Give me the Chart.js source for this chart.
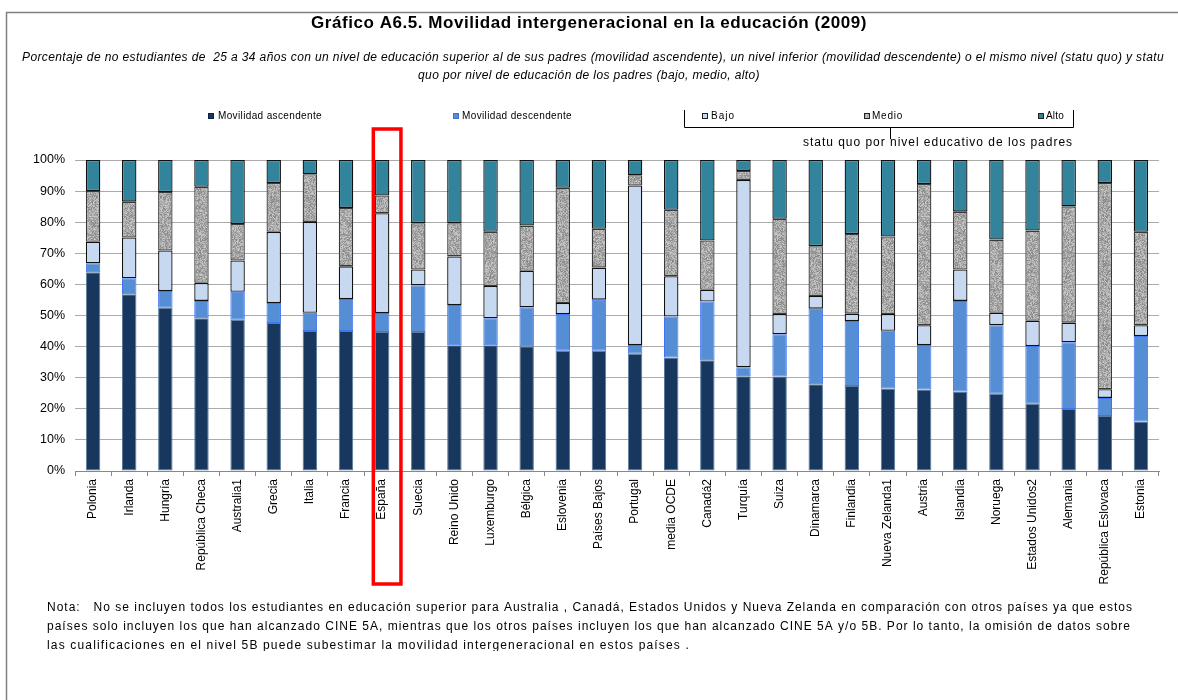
<!DOCTYPE html>
<html>
<head>
<meta charset="utf-8">
<title>Movilidad intergeneracional en la educación (2009)</title>
<script src="https://cdn.jsdelivr.net/npm/chart.js@4"></script>
<style>
  html, body { margin: 0; padding: 0; background: #fff; }
  canvas { display: block; }
</style>
</head>
<body>
<canvas id="chart" width="1178" height="700"></canvas>
<script>
/* ---------------- data ---------------- */
var countries = ["Polonia", "Irlanda", "Hungría", "República Checa", "Australia1", "Grecia", "Italia", "Francia",
    "España", "Suecia", "Reino Unido", "Luxemburgo", "Bélgica", "Eslovenia", "Países Bajos", "Portugal",
    "media OCDE", "Canadá2", "Turquía", "Suiza", "Dinamarca", "Finlandia", "Nueva Zelanda1", "Austria",
    "Islandia", "Noruega", "Estados Unidos2", "Alemania", "República Eslovaca", "Estonia"];

var ascendente = [63.9, 56.8, 52.5, 49.1, 48.6, 47.6, 45.0, 45.0, 44.7, 44.7, 40.4, 40.4, 40.1, 38.7, 38.7, 37.7,
    36.5, 35.6, 30.5, 30.4, 27.9, 27.3, 26.5, 26.2, 25.6, 24.8, 21.6, 19.9, 17.7, 15.9];
var descendente = [2.9, 5.2, 5.4, 5.6, 9.0, 6.4, 5.9, 10.3, 6.1, 15.0, 13.0, 8.7, 12.5, 11.8, 16.4, 2.8,
    13.2, 18.9, 2.9, 13.6, 24.3, 20.9, 18.6, 14.3, 29.1, 22.1, 18.6, 21.5, 5.8, 27.5];
var bajo = [6.9, 13.1, 13.0, 5.8, 10.1, 22.9, 29.2, 10.5, 32.1, 5.1, 15.6, 10.4, 11.8, 3.5, 10.3, 51.3,
    12.9, 3.8, 60.2, 6.5, 4.1, 2.4, 5.4, 6.4, 10.1, 4.0, 8.1, 6.3, 2.8, 3.5];
var medio = [16.3, 11.5, 18.8, 30.9, 11.7, 15.7, 15.3, 18.8, 5.7, 14.9, 10.7, 17.4, 14.5, 37.1, 12.5, 3.3,
    21.4, 15.8, 2.9, 30.6, 16.0, 25.6, 24.9, 45.4, 18.6, 23.5, 29.0, 37.4, 66.3, 30.0];
var alto = [10.0, 13.4, 10.3, 8.6, 20.6, 7.4, 4.6, 15.4, 11.4, 20.3, 20.3, 23.1, 21.1, 8.9, 22.1, 4.9,
    16.0, 25.9, 3.5, 18.9, 27.7, 23.8, 24.6, 7.7, 16.6, 25.6, 22.7, 14.9, 7.4, 23.1];

var yTicks = [0, 10, 20, 30, 40, 50, 60, 70, 80, 90, 100];
var highlighted = "España";

/* ---------------- texts ---------------- */
var titleText = "Gráfico A6.5. Movilidad intergeneracional en la educación (2009)";
var subtitleLines = [
    "Porcentaje de no estudiantes de  25 a 34 años con un nivel de educación superior al de sus padres (movilidad ascendente), un nivel inferior (movilidad descendente) o el mismo nivel (statu quo) y statu",
    "quo por nivel de educación de los padres (bajo, medio, alto)"
];
var noteLines = [
    "Nota:   No se incluyen todos los estudiantes en educación superior para Australia , Canadá, Estados Unidos y Nueva Zelanda en comparación con otros países ya que estos",
    "países solo incluyen los que han alcanzado CINE 5A, mientras que los otros países incluyen los que han alcanzado CINE 5A y/o 5B. Por lo tanto, la omisión de datos sobre",
    "las cualificaciones en el nivel 5B puede subestimar la movilidad intergeneracional en estos países ."
];

var FONT = "'Liberation Sans', Arial, sans-serif";

/* speckled grey fill for the "Medio" series */
function makeSpeckle() {
    var n = 64;
    var c = document.createElement("canvas");
    c.width = n; c.height = n;
    var g = c.getContext("2d");
    var img = g.createImageData(n, n);
    for (var y = 0; y < n; y++) {
        for (var x = 0; x < n; x++) {
            var h = (x * 73856093) ^ (y * 19349663);
            h = Math.imul(h ^ (h >>> 16), 0x45d9f3b);
            h = Math.imul(h ^ (h >>> 16), 0x45d9f3b);
            h = (h ^ (h >>> 16)) >>> 0;
            var v = 168 + ((h % 72) - 36);
            var i = (y * n + x) * 4;
            img.data[i] = v; img.data[i + 1] = v; img.data[i + 2] = v; img.data[i + 3] = 255;
        }
    }
    g.putImageData(img, 0, 0);
    return g.createPattern(c, "repeat");
}

var ctx0 = document.getElementById("chart").getContext("2d");
var speckle = makeSpeckle();

var colAsc = "#17375E", colDesc = "#558ED5", colBajo = "#C6D9F1", colAlto = "#31849B";

// draws text so that it spans `width` px (letter spacing or squeeze)
function spanText(ctx, text, x, y, width, font, align) {
    ctx.save();
    ctx.font = font;
    ctx.textBaseline = "middle";
    ctx.textAlign = "left";
    var w = ctx.measureText(text).width;
    var left = align === "center" ? x - width / 2 : x;
    if (width >= w) {
        ctx.letterSpacing = ((width - w) / text.length) + "px";
        ctx.fillText(text, left, y);
    } else {
        ctx.translate(left, y);
        ctx.scale(width / w, 1);
        ctx.fillText(text, 0, 0);
    }
    ctx.restore();
}

function legendBox(ctx, x, y, fill, stroke) {
    ctx.fillStyle = fill;
    ctx.fillRect(x, y - 3, 6, 6);
    ctx.strokeStyle = stroke;
    ctx.lineWidth = 1;
    ctx.strokeRect(x + 0.5, y - 2.5, 5, 5);
}

var decorations = {
    id: "decorations",
    afterDraw: function (chart) {
        var ctx = chart.ctx;
        ctx.save();

        // outer frame
        ctx.strokeStyle = "#808080";
        ctx.lineWidth = 1.5;
        ctx.beginPath();
        ctx.moveTo(6.5, 700);
        ctx.lineTo(6.5, 12.5);
        ctx.lineTo(1178, 12.5);
        ctx.stroke();

        ctx.fillStyle = "#000";
        spanText(ctx, titleText, 589, 23, 556, "bold 17px " + FONT, "center");
        spanText(ctx, subtitleLines[0], 593, 58, 1142, "italic 12px " + FONT, "center");
        spanText(ctx, subtitleLines[1], 589, 76, 342, "italic 12px " + FONT, "center");

        // legend
        var lf = "10px " + FONT;
        legendBox(ctx, 208, 116, colAsc, "#0d2240");
        ctx.fillStyle = "#000";
        spanText(ctx, "Movilidad ascendente", 218, 116, 104, lf, "left");
        legendBox(ctx, 453, 116, colDesc, "#3a6fd8");
        ctx.fillStyle = "#000";
        spanText(ctx, "Movilidad descendente", 462, 116, 110, lf, "left");
        legendBox(ctx, 702, 116, colBajo, "#222");
        ctx.fillStyle = "#000";
        spanText(ctx, "Bajo", 711, 116, 24, lf, "left");
        legendBox(ctx, 864, 116, speckle, "#222");
        ctx.fillStyle = "#000";
        spanText(ctx, "Medio", 872, 116, 31, lf, "left");
        legendBox(ctx, 1038, 116, colAlto, "#222");
        ctx.fillStyle = "#000";
        spanText(ctx, "Alto", 1046, 116, 18, lf, "left");

        // bracket grouping the statu quo series
        ctx.strokeStyle = "#000";
        ctx.lineWidth = 1;
        ctx.beginPath();
        ctx.moveTo(684.5, 110); ctx.lineTo(684.5, 127.5); ctx.lineTo(1073.5, 127.5); ctx.lineTo(1073.5, 110);
        ctx.moveTo(890.5, 127.5); ctx.lineTo(890.5, 139);
        ctx.stroke();
        spanText(ctx, "statu quo por nivel educativo de los padres", 803, 143, 270, "12px " + FONT, "left");

        // highlight box around one country
        var xs = chart.scales.x;
        var cx = xs.getPixelForValue(countries.indexOf(highlighted)) + 5;
        ctx.strokeStyle = "#FF0000";
        ctx.lineWidth = 3.5;
        ctx.strokeRect(cx - 13.8, 129, 27.6, 455);

        // note
        ctx.fillStyle = "#000";
        ctx.save();
        ctx.beginPath();
        ctx.rect(0, 595, 1178, 56);
        ctx.clip();
        var nf = "12px " + FONT;
        spanText(ctx, noteLines[0], 47, 608, 1086, nf, "left");
        spanText(ctx, noteLines[1], 47, 627, 1084, nf, "left");
        spanText(ctx, noteLines[2], 47, 646, 643, nf, "left");
        ctx.restore();

        ctx.restore();
    }
};

function series(label, data, bg, border, bw) {
    return {
        label: label,
        data: data,
        backgroundColor: bg,
        borderColor: border,
        borderWidth: bw,
        borderSkipped: false,
        barPercentage: 0.4,
        categoryPercentage: 1.0
    };
}

new Chart(ctx0, {
    type: "bar",
    data: {
        labels: countries,
        datasets: [
            series("Movilidad ascendente", ascendente, colAsc, "#5d7b9e", 1),
            series("Movilidad descendente", descendente, colDesc, "#3f74f2", 1),
            series("Bajo", bajo, colBajo, "#111", 1.3),
            series("Medio", medio, speckle, "#3a3a3a", 1.3),
            series("Alto", alto, colAlto, "#111", 1.3)
        ]
    },
    options: {
        responsive: false,
        animation: false,
        layout: { padding: { top: 160, right: 19, left: 0, bottom: 0 } },
        plugins: {
            legend: { display: false },
            title: { display: false },
            tooltip: { enabled: false }
        },
        scales: {
            x: {
                stacked: true,
                offset: true,
                grid: { offset: true, drawOnChartArea: false, color: "#888", tickLength: 5 },
                border: { color: "#888" },
                ticks: {
                    minRotation: 90,
                    maxRotation: 90,
                    autoSkip: false,
                    padding: 3,
                    color: "#000",
                    font: { family: FONT, size: 12 }
                },
                afterFit: function (scale) { scale.height = 229; }
            },
            y: {
                stacked: true,
                min: 0,
                max: 100,
                afterBuildTicks: function (scale) {
                    scale.ticks = yTicks.map(function (v) { return { value: v }; });
                },
                grid: { color: "#ababab", drawTicks: false },
                border: { display: false },
                ticks: {
                    padding: 10,
                    color: "#000",
                    font: { family: FONT, size: 12.5 },
                    callback: function (v) { return v + "%"; }
                },
                afterFit: function (scale) { scale.width = 75; }
            }
        }
    },
    plugins: [decorations]
});
</script>
</body>
</html>
